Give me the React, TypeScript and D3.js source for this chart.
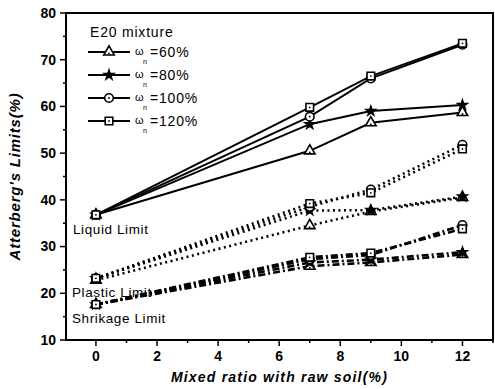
import React from 'react';
import * as d3 from 'd3';

const width = 495;
const height = 389;
const margin = { top: 13, right: 2, bottom: 49, left: 66 };

const ratios = [0, 7, 9, 12];
const seriesNames = ['60%', '80%', '100%', '120%'];
const markers = ['triangle', 'star', 'circle', 'square'];

// liquid limit per water content
const liquid60 = [36.8, 50.5, 56.5, 58.7];
const liquid80 = [36.8, 56.2, 59.0, 60.3];
const liquid100 = [36.8, 57.8, 66.0, 73.2];
const liquid120 = [36.8, 59.8, 66.5, 73.5];

// plastic limit
const plastic60 = [22.8, 34.5, 37.5, 40.5];
const plastic80 = [23.2, 37.7, 37.8, 40.7];
const plastic100 = [23.2, 38.5, 42.2, 51.8];
const plastic120 = [23.2, 39.2, 41.5, 50.9];

// shrinkage limit
const shrink60 = [17.6, 25.8, 26.6, 28.3];
const shrink80 = [17.6, 26.6, 27.2, 28.8];
const shrink100 = [17.6, 27.3, 28.2, 34.6];
const shrink120 = [17.6, 27.7, 28.6, 33.8];

const xTicks = [0, 2, 4, 6, 8, 10, 12];
const yTicks = [10, 20, 30, 40, 50, 60, 70, 80];

const groups = [
  { name: 'Liquid Limit', dash: 'none', series: [liquid60, liquid80, liquid100, liquid120] },
  { name: 'Plastic Limit', dash: '2,3.5', series: [plastic60, plastic80, plastic100, plastic120] },
  { name: 'Shrikage Limit', dash: '7,3,2,3', series: [shrink60, shrink80, shrink100, shrink120] },
];

const symbolFor = (m: string) =>
  m === 'triangle' ? d3.symbolTriangle : m === 'star' ? d3.symbolStar : m === 'circle' ? d3.symbolCircle : d3.symbolSquare;

const Marker = ({ x, y, kind }: { x: number; y: number; kind: string }) => {
  const size = kind === 'star' ? 26 : kind === 'triangle' ? 48 : 58;
  const path = d3.symbol().type(symbolFor(kind)).size(size)();
  const filled = kind === 'star';
  return (
    <g transform={`translate(${x},${y})`}>
      <path d={path || ''} fill={filled ? 'black' : 'white'} stroke="black" strokeWidth={1.6} />
      {!filled && <circle r={0.9} cy={kind === 'triangle' ? 1.5 : 0} fill="black" />}
    </g>
  );
};

const App = () => {
  const innerWidth = width - margin.left - margin.right;
  const innerHeight = height - margin.top - margin.bottom;

  const xScale = d3.scaleLinear().domain([-0.98, 13]).range([0, innerWidth]);
  const yScale = d3.scaleLinear().domain([10, 80]).range([innerHeight, 0]);

  const lineGen = d3
    .line<number>()
    .x((_, i) => xScale(ratios[i]))
    .y(d => yScale(d));

  const minorX = d3.range(-1, 14, 1).filter(v => v % 2 !== 0 && v >= -0.98);
  const minorY = d3.range(15, 80, 10);

  return (
    <svg width={width} height={height} style={{ position: 'absolute', left: 0, top: 0 }} fontFamily="Liberation Sans, Arial, sans-serif">
      <rect width={width} height={height} fill="white" />
      <g transform={`translate(${margin.left},${margin.top})`}>
        <rect width={innerWidth} height={innerHeight} fill="none" stroke="black" strokeWidth={2} />

        {/* y axis */}
        {yTicks.map(t => (
          <g key={t} transform={`translate(0,${yScale(t)})`}>
            <line x1={-6} x2={0} stroke="black" strokeWidth={1.5} />
            <text x={-10} dy="0.35em" textAnchor="end" fontSize={14} fontWeight="bold">
              {t}
            </text>
          </g>
        ))}
        {minorY.map(t => (
          <line key={t} x1={-3} x2={0} y1={yScale(t)} y2={yScale(t)} stroke="black" strokeWidth={1.5} />
        ))}

        {/* x axis */}
        {xTicks.map(t => (
          <g key={t} transform={`translate(${xScale(t)},${innerHeight})`}>
            <line y1={0} y2={6} stroke="black" strokeWidth={1.5} />
            <text y={21} textAnchor="middle" fontSize={14} fontWeight="bold">
              {t}
            </text>
          </g>
        ))}
        {minorX.map(t => (
          <line key={t} x1={xScale(t)} x2={xScale(t)} y1={innerHeight} y2={innerHeight + 3} stroke="black" strokeWidth={1.5} />
        ))}

        <text
          x={innerWidth / 2}
          y={innerHeight + 42}
          textAnchor="middle"
          fontSize={14}
          fontWeight="bold"
          fontStyle="italic"
          letterSpacing={1.2}
        >
          Mixed ratio with raw soil(%)
        </text>
        <text
          transform={`translate(${-46},${innerHeight / 2}) rotate(-90)`}
          textAnchor="middle"
          fontSize={15}
          fontWeight="bold"
          fontStyle="italic"
          letterSpacing={0.8}
        >
          Atterberg's Limits(%)
        </text>

        {/* lines */}
        {groups.map(g =>
          g.series.map((s, si) => (
            <path
              key={g.name + si}
              d={lineGen(s) || ''}
              fill="none"
              stroke="black"
              strokeWidth={g.dash === 'none' ? 2 : 2.6}
              strokeDasharray={g.dash}
            />
          ))
        )}
        {groups.map(g =>
          g.series.map((s, si) =>
            s.map((v, i) => (
              <Marker key={g.name + si + '-' + i} x={xScale(ratios[i])} y={yScale(v)} kind={markers[si]} />
            ))
          )
        )}

        {/* group labels */}
        <text x={7} y={yScale(32.6)} fontSize={13.5} letterSpacing={0.6}>Liquid Limit</text>
        <text x={6} y={yScale(19.2)} fontSize={13.5} letterSpacing={0.6}>Plastic Limit</text>
        <text x={6} y={yScale(13.7)} fontSize={13.5} letterSpacing={0.6}>Shrikage Limit</text>

        {/* legend */}
        <text x={24} y={24} fontSize={14} letterSpacing={0.8}>E20 mixture</text>
        {seriesNames.map((n, i) => {
          const ly = 39 + i * 23;
          return (
            <g key={n}>
              <line x1={22} x2={64} y1={ly} y2={ly} stroke="black" strokeWidth={2} />
              <Marker x={43} y={ly} kind={markers[i]} />
              <text x={69} y={ly + 3} fontSize={11}>ω</text>
              <text x={77} y={ly + 12} fontSize={7}>n</text>
              <text x={84} y={ly + 5} fontSize={14} letterSpacing={0.8}>={n}</text>
            </g>
          );
        })}
      </g>
    </svg>
  );
};

export default App;
